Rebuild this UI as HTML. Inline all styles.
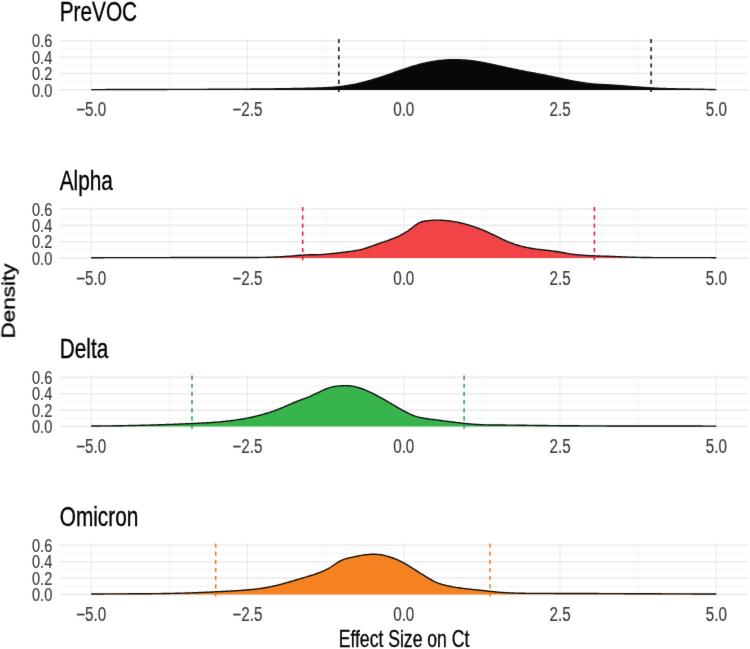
<!DOCTYPE html><html><head><meta charset="utf-8"><title>Effect Size on Ct</title>
<style>html,body{margin:0;padding:0;background:#fff;}svg{display:block;font-family:"Liberation Sans",sans-serif;}</style></head><body>
<svg width="750" height="649" viewBox="0 0 750 649">
<defs><filter id="soft" filterUnits="userSpaceOnUse" x="0" y="0" width="750" height="649" color-interpolation-filters="sRGB"><feConvolveMatrix order="3" kernelMatrix="0.00524 0.06192 0.00524 0.06192 0.73137 0.06192 0.00524 0.06192 0.00524" edgeMode="duplicate" preserveAlpha="true"/></filter></defs>
<g filter="url(#soft)">
<rect x="0" y="0" width="750" height="649" fill="#ffffff"/>
<line x1="60.00" y1="81.72" x2="748.00" y2="81.72" stroke="#f3f3f3" stroke-width="1"/><line x1="60.00" y1="65.36" x2="748.00" y2="65.36" stroke="#f3f3f3" stroke-width="1"/><line x1="60.00" y1="49.00" x2="748.00" y2="49.00" stroke="#f3f3f3" stroke-width="1"/><line x1="169.34" y1="38.90" x2="169.34" y2="90.50" stroke="#f5f5f5" stroke-width="1"/><line x1="325.61" y1="38.90" x2="325.61" y2="90.50" stroke="#f5f5f5" stroke-width="1"/><line x1="481.89" y1="38.90" x2="481.89" y2="90.50" stroke="#f5f5f5" stroke-width="1"/><line x1="638.16" y1="38.90" x2="638.16" y2="90.50" stroke="#f5f5f5" stroke-width="1"/><line x1="60.00" y1="89.90" x2="748.00" y2="89.90" stroke="#ebebeb" stroke-width="1.6"/><line x1="60.00" y1="73.54" x2="748.00" y2="73.54" stroke="#ebebeb" stroke-width="1.6"/><line x1="60.00" y1="57.18" x2="748.00" y2="57.18" stroke="#ebebeb" stroke-width="1.6"/><line x1="60.00" y1="40.82" x2="748.00" y2="40.82" stroke="#ebebeb" stroke-width="1.6"/><line x1="91.20" y1="38.90" x2="91.20" y2="90.50" stroke="#ebebeb" stroke-width="1.2"/><line x1="247.47" y1="38.90" x2="247.47" y2="90.50" stroke="#ebebeb" stroke-width="1.2"/><line x1="403.75" y1="38.90" x2="403.75" y2="90.50" stroke="#ebebeb" stroke-width="1.2"/><line x1="560.02" y1="38.90" x2="560.02" y2="90.50" stroke="#ebebeb" stroke-width="1.2"/><line x1="716.30" y1="38.90" x2="716.30" y2="90.50" stroke="#ebebeb" stroke-width="1.2"/>
<path d="M91.20,89.65 L92.70,89.64 L94.20,89.63 L95.70,89.62 L97.20,89.62 L98.70,89.61 L100.20,89.60 L101.70,89.59 L103.20,89.59 L104.70,89.58 L106.20,89.57 L107.70,89.57 L109.20,89.56 L110.70,89.56 L112.20,89.55 L113.70,89.55 L115.20,89.54 L116.70,89.54 L118.20,89.53 L119.70,89.53 L121.20,89.52 L122.70,89.52 L124.20,89.51 L125.70,89.51 L127.20,89.51 L128.70,89.50 L130.20,89.50 L131.70,89.49 L133.20,89.49 L134.70,89.49 L136.20,89.48 L137.70,89.48 L139.20,89.48 L140.70,89.47 L142.20,89.47 L143.70,89.47 L145.20,89.47 L146.70,89.46 L148.20,89.46 L149.70,89.46 L151.20,89.45 L152.70,89.45 L154.20,89.45 L155.70,89.45 L157.20,89.44 L158.70,89.44 L160.20,89.44 L161.70,89.44 L163.20,89.43 L164.70,89.43 L166.20,89.43 L167.70,89.42 L169.20,89.42 L170.70,89.42 L172.20,89.42 L173.70,89.41 L175.20,89.41 L176.70,89.41 L178.20,89.40 L179.70,89.40 L181.20,89.40 L182.70,89.40 L184.20,89.39 L185.70,89.39 L187.20,89.39 L188.70,89.38 L190.20,89.38 L191.70,89.37 L193.20,89.37 L194.70,89.37 L196.20,89.36 L197.70,89.36 L199.20,89.35 L200.70,89.35 L202.20,89.34 L203.70,89.34 L205.20,89.33 L206.70,89.33 L208.20,89.32 L209.70,89.32 L211.20,89.31 L212.70,89.31 L214.20,89.30 L215.70,89.29 L217.20,89.29 L218.70,89.28 L220.20,89.27 L221.70,89.27 L223.20,89.26 L224.70,89.25 L226.20,89.24 L227.70,89.24 L229.20,89.23 L230.70,89.22 L232.20,89.21 L233.70,89.20 L235.20,89.19 L236.70,89.18 L238.20,89.17 L239.70,89.16 L241.20,89.15 L242.70,89.14 L244.20,89.13 L245.70,89.12 L247.20,89.11 L248.70,89.10 L250.20,89.08 L251.70,89.07 L253.20,89.06 L254.70,89.04 L256.20,89.03 L257.70,89.02 L259.20,89.00 L260.70,88.99 L262.20,88.97 L263.70,88.96 L265.20,88.94 L266.70,88.92 L268.20,88.91 L269.70,88.89 L271.20,88.87 L272.70,88.85 L274.20,88.84 L275.70,88.82 L277.20,88.80 L278.70,88.78 L280.20,88.76 L281.70,88.73 L283.20,88.71 L284.70,88.69 L286.20,88.67 L287.70,88.64 L289.20,88.62 L290.70,88.59 L292.20,88.57 L293.70,88.54 L295.20,88.51 L296.70,88.48 L298.20,88.46 L299.70,88.43 L301.20,88.40 L302.70,88.36 L304.20,88.33 L305.70,88.30 L307.20,88.27 L308.70,88.23 L310.20,88.20 L311.70,88.16 L313.20,88.12 L314.70,88.08 L316.20,88.04 L317.70,87.99 L319.20,87.94 L320.70,87.89 L322.20,87.83 L323.70,87.77 L325.20,87.70 L326.70,87.62 L328.20,87.53 L329.70,87.44 L331.20,87.34 L332.70,87.23 L334.20,87.11 L335.70,86.98 L337.20,86.84 L338.70,86.69 L340.20,86.53 L341.70,86.35 L343.20,86.17 L344.70,85.96 L346.20,85.75 L347.70,85.52 L349.20,85.27 L350.70,85.01 L352.20,84.73 L353.70,84.44 L355.20,84.14 L356.70,83.81 L358.20,83.48 L359.70,83.13 L361.20,82.77 L362.70,82.39 L364.20,82.01 L365.70,81.61 L367.20,81.20 L368.70,80.78 L370.20,80.35 L371.70,79.91 L373.20,79.46 L374.70,79.01 L376.20,78.54 L377.70,78.07 L379.20,77.59 L380.70,77.11 L382.20,76.62 L383.70,76.12 L385.20,75.62 L386.70,75.11 L388.20,74.60 L389.70,74.08 L391.20,73.56 L392.70,73.04 L394.20,72.52 L395.70,72.00 L397.20,71.48 L398.70,70.95 L400.20,70.44 L401.70,69.92 L403.20,69.41 L404.70,68.90 L406.20,68.40 L407.70,67.91 L409.20,67.42 L410.70,66.94 L412.20,66.47 L413.70,66.01 L415.20,65.57 L416.70,65.13 L418.20,64.71 L419.70,64.30 L421.20,63.91 L422.70,63.53 L424.20,63.17 L425.70,62.83 L427.20,62.50 L428.70,62.20 L430.20,61.91 L431.70,61.64 L433.20,61.38 L434.70,61.15 L436.20,60.93 L437.70,60.73 L439.20,60.55 L440.70,60.38 L442.20,60.24 L443.70,60.10 L445.20,59.99 L446.70,59.90 L448.20,59.82 L449.70,59.75 L451.20,59.71 L452.70,59.68 L454.20,59.67 L455.70,59.67 L457.20,59.69 L458.70,59.73 L460.20,59.79 L461.70,59.86 L463.20,59.94 L464.70,60.05 L466.20,60.17 L467.70,60.30 L469.20,60.45 L470.70,60.62 L472.20,60.80 L473.70,61.00 L475.20,61.21 L476.70,61.44 L478.20,61.68 L479.70,61.93 L481.20,62.19 L482.70,62.46 L484.20,62.74 L485.70,63.02 L487.20,63.32 L488.70,63.63 L490.20,63.94 L491.70,64.25 L493.20,64.57 L494.70,64.90 L496.20,65.23 L497.70,65.56 L499.20,65.89 L500.70,66.23 L502.20,66.56 L503.70,66.90 L505.20,67.23 L506.70,67.57 L508.20,67.90 L509.70,68.22 L511.20,68.55 L512.70,68.87 L514.20,69.18 L515.70,69.49 L517.20,69.80 L518.70,70.10 L520.20,70.41 L521.70,70.70 L523.20,71.00 L524.70,71.29 L526.20,71.59 L527.70,71.88 L529.20,72.16 L530.70,72.45 L532.20,72.73 L533.70,73.02 L535.20,73.30 L536.70,73.58 L538.20,73.87 L539.70,74.15 L541.20,74.44 L542.70,74.72 L544.20,75.02 L545.70,75.31 L547.20,75.61 L548.70,75.91 L550.20,76.21 L551.70,76.53 L553.20,76.84 L554.70,77.16 L556.20,77.48 L557.70,77.80 L559.20,78.12 L560.70,78.45 L562.20,78.77 L563.70,79.09 L565.20,79.41 L566.70,79.73 L568.20,80.04 L569.70,80.35 L571.20,80.65 L572.70,80.94 L574.20,81.23 L575.70,81.51 L577.20,81.78 L578.70,82.05 L580.20,82.30 L581.70,82.54 L583.20,82.77 L584.70,82.98 L586.20,83.19 L587.70,83.37 L589.20,83.55 L590.70,83.71 L592.20,83.85 L593.70,83.98 L595.20,84.09 L596.70,84.20 L598.20,84.30 L599.70,84.39 L601.20,84.47 L602.70,84.55 L604.20,84.63 L605.70,84.70 L607.20,84.78 L608.70,84.86 L610.20,84.95 L611.70,85.04 L613.20,85.14 L614.70,85.24 L616.20,85.34 L617.70,85.45 L619.20,85.56 L620.70,85.67 L622.20,85.79 L623.70,85.91 L625.20,86.03 L626.70,86.15 L628.20,86.27 L629.70,86.39 L631.20,86.50 L632.70,86.62 L634.20,86.74 L635.70,86.85 L637.20,86.96 L638.70,87.07 L640.20,87.18 L641.70,87.29 L643.20,87.39 L644.70,87.49 L646.20,87.59 L647.70,87.68 L649.20,87.78 L650.70,87.87 L652.20,87.95 L653.70,88.04 L655.20,88.12 L656.70,88.19 L658.20,88.26 L659.70,88.33 L661.20,88.39 L662.70,88.45 L664.20,88.51 L665.70,88.56 L667.20,88.61 L668.70,88.65 L670.20,88.69 L671.70,88.73 L673.20,88.77 L674.70,88.80 L676.20,88.84 L677.70,88.87 L679.20,88.89 L680.70,88.92 L682.20,88.95 L683.70,88.97 L685.20,88.99 L686.70,89.02 L688.20,89.04 L689.70,89.06 L691.20,89.09 L692.70,89.11 L694.20,89.13 L695.70,89.16 L697.20,89.18 L698.70,89.21 L700.20,89.23 L701.70,89.26 L703.20,89.29 L704.70,89.33 L706.20,89.36 L707.70,89.40 L709.20,89.44 L710.70,89.48 L712.20,89.53 L713.70,89.57 L715.20,89.63 L716.30,89.67 L716.30,89.90 L91.20,89.90 Z" fill="#06080a"/>
<path d="M91.20,89.65 L92.70,89.64 L94.20,89.63 L95.70,89.62 L97.20,89.62 L98.70,89.61 L100.20,89.60 L101.70,89.59 L103.20,89.59 L104.70,89.58 L106.20,89.57 L107.70,89.57 L109.20,89.56 L110.70,89.56 L112.20,89.55 L113.70,89.55 L115.20,89.54 L116.70,89.54 L118.20,89.53 L119.70,89.53 L121.20,89.52 L122.70,89.52 L124.20,89.51 L125.70,89.51 L127.20,89.51 L128.70,89.50 L130.20,89.50 L131.70,89.49 L133.20,89.49 L134.70,89.49 L136.20,89.48 L137.70,89.48 L139.20,89.48 L140.70,89.47 L142.20,89.47 L143.70,89.47 L145.20,89.47 L146.70,89.46 L148.20,89.46 L149.70,89.46 L151.20,89.45 L152.70,89.45 L154.20,89.45 L155.70,89.45 L157.20,89.44 L158.70,89.44 L160.20,89.44 L161.70,89.44 L163.20,89.43 L164.70,89.43 L166.20,89.43 L167.70,89.42 L169.20,89.42 L170.70,89.42 L172.20,89.42 L173.70,89.41 L175.20,89.41 L176.70,89.41 L178.20,89.40 L179.70,89.40 L181.20,89.40 L182.70,89.40 L184.20,89.39 L185.70,89.39 L187.20,89.39 L188.70,89.38 L190.20,89.38 L191.70,89.37 L193.20,89.37 L194.70,89.37 L196.20,89.36 L197.70,89.36 L199.20,89.35 L200.70,89.35 L202.20,89.34 L203.70,89.34 L205.20,89.33 L206.70,89.33 L208.20,89.32 L209.70,89.32 L211.20,89.31 L212.70,89.31 L214.20,89.30 L215.70,89.29 L217.20,89.29 L218.70,89.28 L220.20,89.27 L221.70,89.27 L223.20,89.26 L224.70,89.25 L226.20,89.24 L227.70,89.24 L229.20,89.23 L230.70,89.22 L232.20,89.21 L233.70,89.20 L235.20,89.19 L236.70,89.18 L238.20,89.17 L239.70,89.16 L241.20,89.15 L242.70,89.14 L244.20,89.13 L245.70,89.12 L247.20,89.11 L248.70,89.10 L250.20,89.08 L251.70,89.07 L253.20,89.06 L254.70,89.04 L256.20,89.03 L257.70,89.02 L259.20,89.00 L260.70,88.99 L262.20,88.97 L263.70,88.96 L265.20,88.94 L266.70,88.92 L268.20,88.91 L269.70,88.89 L271.20,88.87 L272.70,88.85 L274.20,88.84 L275.70,88.82 L277.20,88.80 L278.70,88.78 L280.20,88.76 L281.70,88.73 L283.20,88.71 L284.70,88.69 L286.20,88.67 L287.70,88.64 L289.20,88.62 L290.70,88.59 L292.20,88.57 L293.70,88.54 L295.20,88.51 L296.70,88.48 L298.20,88.46 L299.70,88.43 L301.20,88.40 L302.70,88.36 L304.20,88.33 L305.70,88.30 L307.20,88.27 L308.70,88.23 L310.20,88.20 L311.70,88.16 L313.20,88.12 L314.70,88.08 L316.20,88.04 L317.70,87.99 L319.20,87.94 L320.70,87.89 L322.20,87.83 L323.70,87.77 L325.20,87.70 L326.70,87.62 L328.20,87.53 L329.70,87.44 L331.20,87.34 L332.70,87.23 L334.20,87.11 L335.70,86.98 L337.20,86.84 L338.70,86.69 L340.20,86.53 L341.70,86.35 L343.20,86.17 L344.70,85.96 L346.20,85.75 L347.70,85.52 L349.20,85.27 L350.70,85.01 L352.20,84.73 L353.70,84.44 L355.20,84.14 L356.70,83.81 L358.20,83.48 L359.70,83.13 L361.20,82.77 L362.70,82.39 L364.20,82.01 L365.70,81.61 L367.20,81.20 L368.70,80.78 L370.20,80.35 L371.70,79.91 L373.20,79.46 L374.70,79.01 L376.20,78.54 L377.70,78.07 L379.20,77.59 L380.70,77.11 L382.20,76.62 L383.70,76.12 L385.20,75.62 L386.70,75.11 L388.20,74.60 L389.70,74.08 L391.20,73.56 L392.70,73.04 L394.20,72.52 L395.70,72.00 L397.20,71.48 L398.70,70.95 L400.20,70.44 L401.70,69.92 L403.20,69.41 L404.70,68.90 L406.20,68.40 L407.70,67.91 L409.20,67.42 L410.70,66.94 L412.20,66.47 L413.70,66.01 L415.20,65.57 L416.70,65.13 L418.20,64.71 L419.70,64.30 L421.20,63.91 L422.70,63.53 L424.20,63.17 L425.70,62.83 L427.20,62.50 L428.70,62.20 L430.20,61.91 L431.70,61.64 L433.20,61.38 L434.70,61.15 L436.20,60.93 L437.70,60.73 L439.20,60.55 L440.70,60.38 L442.20,60.24 L443.70,60.10 L445.20,59.99 L446.70,59.90 L448.20,59.82 L449.70,59.75 L451.20,59.71 L452.70,59.68 L454.20,59.67 L455.70,59.67 L457.20,59.69 L458.70,59.73 L460.20,59.79 L461.70,59.86 L463.20,59.94 L464.70,60.05 L466.20,60.17 L467.70,60.30 L469.20,60.45 L470.70,60.62 L472.20,60.80 L473.70,61.00 L475.20,61.21 L476.70,61.44 L478.20,61.68 L479.70,61.93 L481.20,62.19 L482.70,62.46 L484.20,62.74 L485.70,63.02 L487.20,63.32 L488.70,63.63 L490.20,63.94 L491.70,64.25 L493.20,64.57 L494.70,64.90 L496.20,65.23 L497.70,65.56 L499.20,65.89 L500.70,66.23 L502.20,66.56 L503.70,66.90 L505.20,67.23 L506.70,67.57 L508.20,67.90 L509.70,68.22 L511.20,68.55 L512.70,68.87 L514.20,69.18 L515.70,69.49 L517.20,69.80 L518.70,70.10 L520.20,70.41 L521.70,70.70 L523.20,71.00 L524.70,71.29 L526.20,71.59 L527.70,71.88 L529.20,72.16 L530.70,72.45 L532.20,72.73 L533.70,73.02 L535.20,73.30 L536.70,73.58 L538.20,73.87 L539.70,74.15 L541.20,74.44 L542.70,74.72 L544.20,75.02 L545.70,75.31 L547.20,75.61 L548.70,75.91 L550.20,76.21 L551.70,76.53 L553.20,76.84 L554.70,77.16 L556.20,77.48 L557.70,77.80 L559.20,78.12 L560.70,78.45 L562.20,78.77 L563.70,79.09 L565.20,79.41 L566.70,79.73 L568.20,80.04 L569.70,80.35 L571.20,80.65 L572.70,80.94 L574.20,81.23 L575.70,81.51 L577.20,81.78 L578.70,82.05 L580.20,82.30 L581.70,82.54 L583.20,82.77 L584.70,82.98 L586.20,83.19 L587.70,83.37 L589.20,83.55 L590.70,83.71 L592.20,83.85 L593.70,83.98 L595.20,84.09 L596.70,84.20 L598.20,84.30 L599.70,84.39 L601.20,84.47 L602.70,84.55 L604.20,84.63 L605.70,84.70 L607.20,84.78 L608.70,84.86 L610.20,84.95 L611.70,85.04 L613.20,85.14 L614.70,85.24 L616.20,85.34 L617.70,85.45 L619.20,85.56 L620.70,85.67 L622.20,85.79 L623.70,85.91 L625.20,86.03 L626.70,86.15 L628.20,86.27 L629.70,86.39 L631.20,86.50 L632.70,86.62 L634.20,86.74 L635.70,86.85 L637.20,86.96 L638.70,87.07 L640.20,87.18 L641.70,87.29 L643.20,87.39 L644.70,87.49 L646.20,87.59 L647.70,87.68 L649.20,87.78 L650.70,87.87 L652.20,87.95 L653.70,88.04 L655.20,88.12 L656.70,88.19 L658.20,88.26 L659.70,88.33 L661.20,88.39 L662.70,88.45 L664.20,88.51 L665.70,88.56 L667.20,88.61 L668.70,88.65 L670.20,88.69 L671.70,88.73 L673.20,88.77 L674.70,88.80 L676.20,88.84 L677.70,88.87 L679.20,88.89 L680.70,88.92 L682.20,88.95 L683.70,88.97 L685.20,88.99 L686.70,89.02 L688.20,89.04 L689.70,89.06 L691.20,89.09 L692.70,89.11 L694.20,89.13 L695.70,89.16 L697.20,89.18 L698.70,89.21 L700.20,89.23 L701.70,89.26 L703.20,89.29 L704.70,89.33 L706.20,89.36 L707.70,89.40 L709.20,89.44 L710.70,89.48 L712.20,89.53 L713.70,89.57 L715.20,89.63 L716.30,89.67" fill="none" stroke="#111111" stroke-width="1.4" stroke-linejoin="round"/>
<line x1="338.80" y1="38.90" x2="338.80" y2="92.60" stroke="#111111" stroke-width="1.5" stroke-dasharray="4.2,3.97"/>
<line x1="651.10" y1="38.90" x2="651.10" y2="92.60" stroke="#111111" stroke-width="1.5" stroke-dasharray="4.2,3.97"/>
<text transform="translate(52.3,47.42) scale(0.82,1)" text-anchor="end" font-size="17.8" fill="#3d3d3d" stroke="#3d3d3d" stroke-width="0.2">0.6</text>
<text transform="translate(52.3,63.78) scale(0.82,1)" text-anchor="end" font-size="17.8" fill="#3d3d3d" stroke="#3d3d3d" stroke-width="0.2">0.4</text>
<text transform="translate(52.3,80.14) scale(0.82,1)" text-anchor="end" font-size="17.8" fill="#3d3d3d" stroke="#3d3d3d" stroke-width="0.2">0.2</text>
<text transform="translate(52.3,96.50) scale(0.82,1)" text-anchor="end" font-size="17.8" fill="#3d3d3d" stroke="#3d3d3d" stroke-width="0.2">0.0</text>
<text transform="translate(91.20,116.35) scale(0.79,1)" text-anchor="middle" font-size="19.3" fill="#3d3d3d" stroke="#3d3d3d" stroke-width="0.2">−5.0</text>
<text transform="translate(247.47,116.35) scale(0.79,1)" text-anchor="middle" font-size="19.3" fill="#3d3d3d" stroke="#3d3d3d" stroke-width="0.2">−2.5</text>
<text transform="translate(403.75,116.35) scale(0.79,1)" text-anchor="middle" font-size="19.3" fill="#3d3d3d" stroke="#3d3d3d" stroke-width="0.2">0.0</text>
<text transform="translate(560.02,116.35) scale(0.79,1)" text-anchor="middle" font-size="19.3" fill="#3d3d3d" stroke="#3d3d3d" stroke-width="0.2">2.5</text>
<text transform="translate(716.30,116.35) scale(0.79,1)" text-anchor="middle" font-size="19.3" fill="#3d3d3d" stroke="#3d3d3d" stroke-width="0.2">5.0</text>
<text transform="translate(59.7,21.40) scale(0.765,1)" font-size="27.2" fill="#000" stroke="#000" stroke-width="0.35">PreVOC</text>
<line x1="60.00" y1="249.92" x2="748.00" y2="249.92" stroke="#f3f3f3" stroke-width="1"/><line x1="60.00" y1="233.56" x2="748.00" y2="233.56" stroke="#f3f3f3" stroke-width="1"/><line x1="60.00" y1="217.20" x2="748.00" y2="217.20" stroke="#f3f3f3" stroke-width="1"/><line x1="169.34" y1="207.10" x2="169.34" y2="258.70" stroke="#f5f5f5" stroke-width="1"/><line x1="325.61" y1="207.10" x2="325.61" y2="258.70" stroke="#f5f5f5" stroke-width="1"/><line x1="481.89" y1="207.10" x2="481.89" y2="258.70" stroke="#f5f5f5" stroke-width="1"/><line x1="638.16" y1="207.10" x2="638.16" y2="258.70" stroke="#f5f5f5" stroke-width="1"/><line x1="60.00" y1="258.10" x2="748.00" y2="258.10" stroke="#ebebeb" stroke-width="1.6"/><line x1="60.00" y1="241.74" x2="748.00" y2="241.74" stroke="#ebebeb" stroke-width="1.6"/><line x1="60.00" y1="225.38" x2="748.00" y2="225.38" stroke="#ebebeb" stroke-width="1.6"/><line x1="60.00" y1="209.02" x2="748.00" y2="209.02" stroke="#ebebeb" stroke-width="1.6"/><line x1="91.20" y1="207.10" x2="91.20" y2="258.70" stroke="#ebebeb" stroke-width="1.2"/><line x1="247.47" y1="207.10" x2="247.47" y2="258.70" stroke="#ebebeb" stroke-width="1.2"/><line x1="403.75" y1="207.10" x2="403.75" y2="258.70" stroke="#ebebeb" stroke-width="1.2"/><line x1="560.02" y1="207.10" x2="560.02" y2="258.70" stroke="#ebebeb" stroke-width="1.2"/><line x1="716.30" y1="207.10" x2="716.30" y2="258.70" stroke="#ebebeb" stroke-width="1.2"/>
<path d="M91.20,257.71 L92.70,257.70 L94.20,257.70 L95.70,257.70 L97.20,257.69 L98.70,257.69 L100.20,257.68 L101.70,257.68 L103.20,257.68 L104.70,257.67 L106.20,257.67 L107.70,257.67 L109.20,257.66 L110.70,257.66 L112.20,257.66 L113.70,257.65 L115.20,257.65 L116.70,257.65 L118.20,257.65 L119.70,257.64 L121.20,257.64 L122.70,257.64 L124.20,257.64 L125.70,257.63 L127.20,257.63 L128.70,257.63 L130.20,257.63 L131.70,257.63 L133.20,257.62 L134.70,257.62 L136.20,257.62 L137.70,257.62 L139.20,257.62 L140.70,257.61 L142.20,257.61 L143.70,257.61 L145.20,257.61 L146.70,257.61 L148.20,257.60 L149.70,257.60 L151.20,257.60 L152.70,257.60 L154.20,257.60 L155.70,257.59 L157.20,257.59 L158.70,257.59 L160.20,257.59 L161.70,257.59 L163.20,257.58 L164.70,257.58 L166.20,257.58 L167.70,257.58 L169.20,257.58 L170.70,257.57 L172.20,257.57 L173.70,257.57 L175.20,257.56 L176.70,257.56 L178.20,257.56 L179.70,257.56 L181.20,257.55 L182.70,257.55 L184.20,257.55 L185.70,257.54 L187.20,257.54 L188.70,257.54 L190.20,257.53 L191.70,257.53 L193.20,257.52 L194.70,257.52 L196.20,257.52 L197.70,257.51 L199.20,257.51 L200.70,257.50 L202.20,257.50 L203.70,257.49 L205.20,257.49 L206.70,257.49 L208.20,257.48 L209.70,257.48 L211.20,257.47 L212.70,257.47 L214.20,257.47 L215.70,257.46 L217.20,257.46 L218.70,257.46 L220.20,257.45 L221.70,257.45 L223.20,257.45 L224.70,257.45 L226.20,257.44 L227.70,257.44 L229.20,257.44 L230.70,257.44 L232.20,257.44 L233.70,257.44 L235.20,257.44 L236.70,257.44 L238.20,257.45 L239.70,257.45 L241.20,257.45 L242.70,257.45 L244.20,257.46 L245.70,257.46 L247.20,257.46 L248.70,257.46 L250.20,257.46 L251.70,257.46 L253.20,257.46 L254.70,257.45 L256.20,257.44 L257.70,257.43 L259.20,257.42 L260.70,257.41 L262.20,257.39 L263.70,257.36 L265.20,257.34 L266.70,257.30 L268.20,257.27 L269.70,257.23 L271.20,257.18 L272.70,257.13 L274.20,257.07 L275.70,257.01 L277.20,256.94 L278.70,256.87 L280.20,256.79 L281.70,256.71 L283.20,256.62 L284.70,256.52 L286.20,256.42 L287.70,256.31 L289.20,256.20 L290.70,256.08 L292.20,255.96 L293.70,255.83 L295.20,255.70 L296.70,255.57 L298.20,255.45 L299.70,255.32 L301.20,255.21 L302.70,255.10 L304.20,255.00 L305.70,254.91 L307.20,254.84 L308.70,254.78 L310.20,254.74 L311.70,254.71 L313.20,254.70 L314.70,254.69 L316.20,254.68 L317.70,254.66 L319.20,254.63 L320.70,254.58 L322.20,254.51 L323.70,254.41 L325.20,254.30 L326.70,254.17 L328.20,254.03 L329.70,253.88 L331.20,253.71 L332.70,253.54 L334.20,253.37 L335.70,253.19 L337.20,253.01 L338.70,252.83 L340.20,252.65 L341.70,252.48 L343.20,252.31 L344.70,252.14 L346.20,251.96 L347.70,251.78 L349.20,251.59 L350.70,251.39 L352.20,251.18 L353.70,250.95 L355.20,250.70 L356.70,250.43 L358.20,250.14 L359.70,249.82 L361.20,249.47 L362.70,249.09 L364.20,248.67 L365.70,248.22 L367.20,247.73 L368.70,247.22 L370.20,246.68 L371.70,246.14 L373.20,245.58 L374.70,245.04 L376.20,244.50 L377.70,243.97 L379.20,243.45 L380.70,242.93 L382.20,242.42 L383.70,241.91 L385.20,241.39 L386.70,240.87 L388.20,240.34 L389.70,239.81 L391.20,239.25 L392.70,238.69 L394.20,238.09 L395.70,237.47 L397.20,236.82 L398.70,236.13 L400.20,235.40 L401.70,234.61 L403.20,233.78 L404.70,232.89 L406.20,231.96 L407.70,230.97 L409.20,229.93 L410.70,228.83 L412.20,227.69 L413.70,226.54 L415.20,225.41 L416.70,224.33 L418.20,223.36 L419.70,222.55 L421.20,221.96 L422.70,221.54 L424.20,221.24 L425.70,221.01 L427.20,220.81 L428.70,220.63 L430.20,220.48 L431.70,220.36 L433.20,220.27 L434.70,220.20 L436.20,220.16 L437.70,220.14 L439.20,220.16 L440.70,220.19 L442.20,220.25 L443.70,220.34 L445.20,220.45 L446.70,220.58 L448.20,220.74 L449.70,220.92 L451.20,221.12 L452.70,221.35 L454.20,221.59 L455.70,221.86 L457.20,222.15 L458.70,222.46 L460.20,222.79 L461.70,223.14 L463.20,223.51 L464.70,223.90 L466.20,224.31 L467.70,224.74 L469.20,225.19 L470.70,225.65 L472.20,226.14 L473.70,226.64 L475.20,227.15 L476.70,227.69 L478.20,228.24 L479.70,228.80 L481.20,229.39 L482.70,229.99 L484.20,230.62 L485.70,231.26 L487.20,231.92 L488.70,232.60 L490.20,233.30 L491.70,234.02 L493.20,234.75 L494.70,235.49 L496.20,236.24 L497.70,236.98 L499.20,237.72 L500.70,238.44 L502.20,239.15 L503.70,239.83 L505.20,240.50 L506.70,241.15 L508.20,241.78 L509.70,242.38 L511.20,242.96 L512.70,243.52 L514.20,244.05 L515.70,244.55 L517.20,245.03 L518.70,245.48 L520.20,245.91 L521.70,246.31 L523.20,246.68 L524.70,247.04 L526.20,247.37 L527.70,247.68 L529.20,247.96 L530.70,248.23 L532.20,248.48 L533.70,248.71 L535.20,248.93 L536.70,249.13 L538.20,249.33 L539.70,249.51 L541.20,249.69 L542.70,249.86 L544.20,250.03 L545.70,250.19 L547.20,250.36 L548.70,250.53 L550.20,250.71 L551.70,250.89 L553.20,251.07 L554.70,251.27 L556.20,251.48 L557.70,251.71 L559.20,251.95 L560.70,252.21 L562.20,252.48 L563.70,252.77 L565.20,253.05 L566.70,253.33 L568.20,253.60 L569.70,253.85 L571.20,254.08 L572.70,254.29 L574.20,254.47 L575.70,254.64 L577.20,254.78 L578.70,254.92 L580.20,255.04 L581.70,255.15 L583.20,255.26 L584.70,255.36 L586.20,255.45 L587.70,255.53 L589.20,255.61 L590.70,255.68 L592.20,255.75 L593.70,255.81 L595.20,255.87 L596.70,255.92 L598.20,255.98 L599.70,256.03 L601.20,256.08 L602.70,256.12 L604.20,256.17 L605.70,256.22 L607.20,256.27 L608.70,256.32 L610.20,256.37 L611.70,256.43 L613.20,256.49 L614.70,256.54 L616.20,256.60 L617.70,256.67 L619.20,256.73 L620.70,256.79 L622.20,256.85 L623.70,256.91 L625.20,256.97 L626.70,257.02 L628.20,257.08 L629.70,257.13 L631.20,257.18 L632.70,257.22 L634.20,257.27 L635.70,257.31 L637.20,257.34 L638.70,257.38 L640.20,257.41 L641.70,257.44 L643.20,257.46 L644.70,257.49 L646.20,257.51 L647.70,257.53 L649.20,257.55 L650.70,257.56 L652.20,257.58 L653.70,257.59 L655.20,257.60 L656.70,257.61 L658.20,257.61 L659.70,257.62 L661.20,257.62 L662.70,257.63 L664.20,257.63 L665.70,257.63 L667.20,257.63 L668.70,257.63 L670.20,257.63 L671.70,257.63 L673.20,257.63 L674.70,257.62 L676.20,257.62 L677.70,257.62 L679.20,257.61 L680.70,257.61 L682.20,257.61 L683.70,257.60 L685.20,257.60 L686.70,257.60 L688.20,257.59 L689.70,257.59 L691.20,257.59 L692.70,257.59 L694.20,257.59 L695.70,257.59 L697.20,257.59 L698.70,257.60 L700.20,257.60 L701.70,257.61 L703.20,257.61 L704.70,257.62 L706.20,257.63 L707.70,257.65 L709.20,257.66 L710.70,257.67 L712.20,257.69 L713.70,257.71 L715.20,257.73 L716.30,257.75 L716.30,258.10 L91.20,258.10 Z" fill="#f04446"/>
<path d="M91.20,257.71 L92.70,257.70 L94.20,257.70 L95.70,257.70 L97.20,257.69 L98.70,257.69 L100.20,257.68 L101.70,257.68 L103.20,257.68 L104.70,257.67 L106.20,257.67 L107.70,257.67 L109.20,257.66 L110.70,257.66 L112.20,257.66 L113.70,257.65 L115.20,257.65 L116.70,257.65 L118.20,257.65 L119.70,257.64 L121.20,257.64 L122.70,257.64 L124.20,257.64 L125.70,257.63 L127.20,257.63 L128.70,257.63 L130.20,257.63 L131.70,257.63 L133.20,257.62 L134.70,257.62 L136.20,257.62 L137.70,257.62 L139.20,257.62 L140.70,257.61 L142.20,257.61 L143.70,257.61 L145.20,257.61 L146.70,257.61 L148.20,257.60 L149.70,257.60 L151.20,257.60 L152.70,257.60 L154.20,257.60 L155.70,257.59 L157.20,257.59 L158.70,257.59 L160.20,257.59 L161.70,257.59 L163.20,257.58 L164.70,257.58 L166.20,257.58 L167.70,257.58 L169.20,257.58 L170.70,257.57 L172.20,257.57 L173.70,257.57 L175.20,257.56 L176.70,257.56 L178.20,257.56 L179.70,257.56 L181.20,257.55 L182.70,257.55 L184.20,257.55 L185.70,257.54 L187.20,257.54 L188.70,257.54 L190.20,257.53 L191.70,257.53 L193.20,257.52 L194.70,257.52 L196.20,257.52 L197.70,257.51 L199.20,257.51 L200.70,257.50 L202.20,257.50 L203.70,257.49 L205.20,257.49 L206.70,257.49 L208.20,257.48 L209.70,257.48 L211.20,257.47 L212.70,257.47 L214.20,257.47 L215.70,257.46 L217.20,257.46 L218.70,257.46 L220.20,257.45 L221.70,257.45 L223.20,257.45 L224.70,257.45 L226.20,257.44 L227.70,257.44 L229.20,257.44 L230.70,257.44 L232.20,257.44 L233.70,257.44 L235.20,257.44 L236.70,257.44 L238.20,257.45 L239.70,257.45 L241.20,257.45 L242.70,257.45 L244.20,257.46 L245.70,257.46 L247.20,257.46 L248.70,257.46 L250.20,257.46 L251.70,257.46 L253.20,257.46 L254.70,257.45 L256.20,257.44 L257.70,257.43 L259.20,257.42 L260.70,257.41 L262.20,257.39 L263.70,257.36 L265.20,257.34 L266.70,257.30 L268.20,257.27 L269.70,257.23 L271.20,257.18 L272.70,257.13 L274.20,257.07 L275.70,257.01 L277.20,256.94 L278.70,256.87 L280.20,256.79 L281.70,256.71 L283.20,256.62 L284.70,256.52 L286.20,256.42 L287.70,256.31 L289.20,256.20 L290.70,256.08 L292.20,255.96 L293.70,255.83 L295.20,255.70 L296.70,255.57 L298.20,255.45 L299.70,255.32 L301.20,255.21 L302.70,255.10 L304.20,255.00 L305.70,254.91 L307.20,254.84 L308.70,254.78 L310.20,254.74 L311.70,254.71 L313.20,254.70 L314.70,254.69 L316.20,254.68 L317.70,254.66 L319.20,254.63 L320.70,254.58 L322.20,254.51 L323.70,254.41 L325.20,254.30 L326.70,254.17 L328.20,254.03 L329.70,253.88 L331.20,253.71 L332.70,253.54 L334.20,253.37 L335.70,253.19 L337.20,253.01 L338.70,252.83 L340.20,252.65 L341.70,252.48 L343.20,252.31 L344.70,252.14 L346.20,251.96 L347.70,251.78 L349.20,251.59 L350.70,251.39 L352.20,251.18 L353.70,250.95 L355.20,250.70 L356.70,250.43 L358.20,250.14 L359.70,249.82 L361.20,249.47 L362.70,249.09 L364.20,248.67 L365.70,248.22 L367.20,247.73 L368.70,247.22 L370.20,246.68 L371.70,246.14 L373.20,245.58 L374.70,245.04 L376.20,244.50 L377.70,243.97 L379.20,243.45 L380.70,242.93 L382.20,242.42 L383.70,241.91 L385.20,241.39 L386.70,240.87 L388.20,240.34 L389.70,239.81 L391.20,239.25 L392.70,238.69 L394.20,238.09 L395.70,237.47 L397.20,236.82 L398.70,236.13 L400.20,235.40 L401.70,234.61 L403.20,233.78 L404.70,232.89 L406.20,231.96 L407.70,230.97 L409.20,229.93 L410.70,228.83 L412.20,227.69 L413.70,226.54 L415.20,225.41 L416.70,224.33 L418.20,223.36 L419.70,222.55 L421.20,221.96 L422.70,221.54 L424.20,221.24 L425.70,221.01 L427.20,220.81 L428.70,220.63 L430.20,220.48 L431.70,220.36 L433.20,220.27 L434.70,220.20 L436.20,220.16 L437.70,220.14 L439.20,220.16 L440.70,220.19 L442.20,220.25 L443.70,220.34 L445.20,220.45 L446.70,220.58 L448.20,220.74 L449.70,220.92 L451.20,221.12 L452.70,221.35 L454.20,221.59 L455.70,221.86 L457.20,222.15 L458.70,222.46 L460.20,222.79 L461.70,223.14 L463.20,223.51 L464.70,223.90 L466.20,224.31 L467.70,224.74 L469.20,225.19 L470.70,225.65 L472.20,226.14 L473.70,226.64 L475.20,227.15 L476.70,227.69 L478.20,228.24 L479.70,228.80 L481.20,229.39 L482.70,229.99 L484.20,230.62 L485.70,231.26 L487.20,231.92 L488.70,232.60 L490.20,233.30 L491.70,234.02 L493.20,234.75 L494.70,235.49 L496.20,236.24 L497.70,236.98 L499.20,237.72 L500.70,238.44 L502.20,239.15 L503.70,239.83 L505.20,240.50 L506.70,241.15 L508.20,241.78 L509.70,242.38 L511.20,242.96 L512.70,243.52 L514.20,244.05 L515.70,244.55 L517.20,245.03 L518.70,245.48 L520.20,245.91 L521.70,246.31 L523.20,246.68 L524.70,247.04 L526.20,247.37 L527.70,247.68 L529.20,247.96 L530.70,248.23 L532.20,248.48 L533.70,248.71 L535.20,248.93 L536.70,249.13 L538.20,249.33 L539.70,249.51 L541.20,249.69 L542.70,249.86 L544.20,250.03 L545.70,250.19 L547.20,250.36 L548.70,250.53 L550.20,250.71 L551.70,250.89 L553.20,251.07 L554.70,251.27 L556.20,251.48 L557.70,251.71 L559.20,251.95 L560.70,252.21 L562.20,252.48 L563.70,252.77 L565.20,253.05 L566.70,253.33 L568.20,253.60 L569.70,253.85 L571.20,254.08 L572.70,254.29 L574.20,254.47 L575.70,254.64 L577.20,254.78 L578.70,254.92 L580.20,255.04 L581.70,255.15 L583.20,255.26 L584.70,255.36 L586.20,255.45 L587.70,255.53 L589.20,255.61 L590.70,255.68 L592.20,255.75 L593.70,255.81 L595.20,255.87 L596.70,255.92 L598.20,255.98 L599.70,256.03 L601.20,256.08 L602.70,256.12 L604.20,256.17 L605.70,256.22 L607.20,256.27 L608.70,256.32 L610.20,256.37 L611.70,256.43 L613.20,256.49 L614.70,256.54 L616.20,256.60 L617.70,256.67 L619.20,256.73 L620.70,256.79 L622.20,256.85 L623.70,256.91 L625.20,256.97 L626.70,257.02 L628.20,257.08 L629.70,257.13 L631.20,257.18 L632.70,257.22 L634.20,257.27 L635.70,257.31 L637.20,257.34 L638.70,257.38 L640.20,257.41 L641.70,257.44 L643.20,257.46 L644.70,257.49 L646.20,257.51 L647.70,257.53 L649.20,257.55 L650.70,257.56 L652.20,257.58 L653.70,257.59 L655.20,257.60 L656.70,257.61 L658.20,257.61 L659.70,257.62 L661.20,257.62 L662.70,257.63 L664.20,257.63 L665.70,257.63 L667.20,257.63 L668.70,257.63 L670.20,257.63 L671.70,257.63 L673.20,257.63 L674.70,257.62 L676.20,257.62 L677.70,257.62 L679.20,257.61 L680.70,257.61 L682.20,257.61 L683.70,257.60 L685.20,257.60 L686.70,257.60 L688.20,257.59 L689.70,257.59 L691.20,257.59 L692.70,257.59 L694.20,257.59 L695.70,257.59 L697.20,257.59 L698.70,257.60 L700.20,257.60 L701.70,257.61 L703.20,257.61 L704.70,257.62 L706.20,257.63 L707.70,257.65 L709.20,257.66 L710.70,257.67 L712.20,257.69 L713.70,257.71 L715.20,257.73 L716.30,257.75" fill="none" stroke="#111111" stroke-width="1.4" stroke-linejoin="round"/>
<line x1="302.70" y1="207.10" x2="302.70" y2="260.80" stroke="#e3183a" stroke-width="1.5" stroke-dasharray="4.2,3.97"/>
<line x1="594.40" y1="207.10" x2="594.40" y2="260.80" stroke="#e3183a" stroke-width="1.5" stroke-dasharray="4.2,3.97"/>
<text transform="translate(52.3,215.62) scale(0.82,1)" text-anchor="end" font-size="17.8" fill="#3d3d3d" stroke="#3d3d3d" stroke-width="0.2">0.6</text>
<text transform="translate(52.3,231.98) scale(0.82,1)" text-anchor="end" font-size="17.8" fill="#3d3d3d" stroke="#3d3d3d" stroke-width="0.2">0.4</text>
<text transform="translate(52.3,248.34) scale(0.82,1)" text-anchor="end" font-size="17.8" fill="#3d3d3d" stroke="#3d3d3d" stroke-width="0.2">0.2</text>
<text transform="translate(52.3,264.70) scale(0.82,1)" text-anchor="end" font-size="17.8" fill="#3d3d3d" stroke="#3d3d3d" stroke-width="0.2">0.0</text>
<text transform="translate(91.20,284.55) scale(0.79,1)" text-anchor="middle" font-size="19.3" fill="#3d3d3d" stroke="#3d3d3d" stroke-width="0.2">−5.0</text>
<text transform="translate(247.47,284.55) scale(0.79,1)" text-anchor="middle" font-size="19.3" fill="#3d3d3d" stroke="#3d3d3d" stroke-width="0.2">−2.5</text>
<text transform="translate(403.75,284.55) scale(0.79,1)" text-anchor="middle" font-size="19.3" fill="#3d3d3d" stroke="#3d3d3d" stroke-width="0.2">0.0</text>
<text transform="translate(560.02,284.55) scale(0.79,1)" text-anchor="middle" font-size="19.3" fill="#3d3d3d" stroke="#3d3d3d" stroke-width="0.2">2.5</text>
<text transform="translate(716.30,284.55) scale(0.79,1)" text-anchor="middle" font-size="19.3" fill="#3d3d3d" stroke="#3d3d3d" stroke-width="0.2">5.0</text>
<text transform="translate(59.7,189.60) scale(0.765,1)" font-size="27.2" fill="#000" stroke="#000" stroke-width="0.35">Alpha</text>
<line x1="60.00" y1="418.32" x2="748.00" y2="418.32" stroke="#f3f3f3" stroke-width="1"/><line x1="60.00" y1="401.96" x2="748.00" y2="401.96" stroke="#f3f3f3" stroke-width="1"/><line x1="60.00" y1="385.60" x2="748.00" y2="385.60" stroke="#f3f3f3" stroke-width="1"/><line x1="169.34" y1="375.50" x2="169.34" y2="427.10" stroke="#f5f5f5" stroke-width="1"/><line x1="325.61" y1="375.50" x2="325.61" y2="427.10" stroke="#f5f5f5" stroke-width="1"/><line x1="481.89" y1="375.50" x2="481.89" y2="427.10" stroke="#f5f5f5" stroke-width="1"/><line x1="638.16" y1="375.50" x2="638.16" y2="427.10" stroke="#f5f5f5" stroke-width="1"/><line x1="60.00" y1="426.50" x2="748.00" y2="426.50" stroke="#ebebeb" stroke-width="1.6"/><line x1="60.00" y1="410.14" x2="748.00" y2="410.14" stroke="#ebebeb" stroke-width="1.6"/><line x1="60.00" y1="393.78" x2="748.00" y2="393.78" stroke="#ebebeb" stroke-width="1.6"/><line x1="60.00" y1="377.42" x2="748.00" y2="377.42" stroke="#ebebeb" stroke-width="1.6"/><line x1="91.20" y1="375.50" x2="91.20" y2="427.10" stroke="#ebebeb" stroke-width="1.2"/><line x1="247.47" y1="375.50" x2="247.47" y2="427.10" stroke="#ebebeb" stroke-width="1.2"/><line x1="403.75" y1="375.50" x2="403.75" y2="427.10" stroke="#ebebeb" stroke-width="1.2"/><line x1="560.02" y1="375.50" x2="560.02" y2="427.10" stroke="#ebebeb" stroke-width="1.2"/><line x1="716.30" y1="375.50" x2="716.30" y2="427.10" stroke="#ebebeb" stroke-width="1.2"/>
<path d="M91.20,425.97 L92.70,425.96 L94.20,425.96 L95.70,425.95 L97.20,425.95 L98.70,425.94 L100.20,425.93 L101.70,425.92 L103.20,425.91 L104.70,425.90 L106.20,425.89 L107.70,425.87 L109.20,425.86 L110.70,425.84 L112.20,425.83 L113.70,425.81 L115.20,425.79 L116.70,425.77 L118.20,425.75 L119.70,425.73 L121.20,425.70 L122.70,425.68 L124.20,425.65 L125.70,425.63 L127.20,425.60 L128.70,425.57 L130.20,425.54 L131.70,425.51 L133.20,425.48 L134.70,425.45 L136.20,425.42 L137.70,425.38 L139.20,425.35 L140.70,425.31 L142.20,425.27 L143.70,425.24 L145.20,425.20 L146.70,425.16 L148.20,425.12 L149.70,425.08 L151.20,425.03 L152.70,424.99 L154.20,424.95 L155.70,424.90 L157.20,424.86 L158.70,424.81 L160.20,424.76 L161.70,424.71 L163.20,424.66 L164.70,424.61 L166.20,424.56 L167.70,424.51 L169.20,424.46 L170.70,424.40 L172.20,424.35 L173.70,424.29 L175.20,424.24 L176.70,424.18 L178.20,424.12 L179.70,424.07 L181.20,424.01 L182.70,423.95 L184.20,423.89 L185.70,423.82 L187.20,423.76 L188.70,423.70 L190.20,423.63 L191.70,423.57 L193.20,423.50 L194.70,423.44 L196.20,423.37 L197.70,423.30 L199.20,423.23 L200.70,423.15 L202.20,423.07 L203.70,422.99 L205.20,422.91 L206.70,422.82 L208.20,422.73 L209.70,422.63 L211.20,422.53 L212.70,422.43 L214.20,422.32 L215.70,422.21 L217.20,422.09 L218.70,421.96 L220.20,421.83 L221.70,421.69 L223.20,421.55 L224.70,421.39 L226.20,421.24 L227.70,421.07 L229.20,420.90 L230.70,420.72 L232.20,420.53 L233.70,420.33 L235.20,420.12 L236.70,419.91 L238.20,419.68 L239.70,419.45 L241.20,419.20 L242.70,418.95 L244.20,418.68 L245.70,418.41 L247.20,418.12 L248.70,417.83 L250.20,417.52 L251.70,417.20 L253.20,416.86 L254.70,416.52 L256.20,416.16 L257.70,415.79 L259.20,415.41 L260.70,415.01 L262.20,414.60 L263.70,414.18 L265.20,413.74 L266.70,413.29 L268.20,412.82 L269.70,412.34 L271.20,411.84 L272.70,411.32 L274.20,410.79 L275.70,410.25 L277.20,409.69 L278.70,409.11 L280.20,408.51 L281.70,407.90 L283.20,407.28 L284.70,406.64 L286.20,405.99 L287.70,405.34 L289.20,404.69 L290.70,404.04 L292.20,403.40 L293.70,402.76 L295.20,402.12 L296.70,401.51 L298.20,400.90 L299.70,400.32 L301.20,399.76 L302.70,399.21 L304.20,398.66 L305.70,398.11 L307.20,397.55 L308.70,396.96 L310.20,396.33 L311.70,395.66 L313.20,394.97 L314.70,394.24 L316.20,393.50 L317.70,392.76 L319.20,392.01 L320.70,391.28 L322.20,390.57 L323.70,389.88 L325.20,389.23 L326.70,388.63 L328.20,388.08 L329.70,387.60 L331.20,387.18 L332.70,386.84 L334.20,386.55 L335.70,386.32 L337.20,386.13 L338.70,385.97 L340.20,385.85 L341.70,385.75 L343.20,385.68 L344.70,385.64 L346.20,385.64 L347.70,385.68 L349.20,385.78 L350.70,385.93 L352.20,386.14 L353.70,386.40 L355.20,386.72 L356.70,387.09 L358.20,387.51 L359.70,387.97 L361.20,388.47 L362.70,389.01 L364.20,389.59 L365.70,390.20 L367.20,390.84 L368.70,391.52 L370.20,392.22 L371.70,392.94 L373.20,393.68 L374.70,394.44 L376.20,395.22 L377.70,396.01 L379.20,396.82 L380.70,397.64 L382.20,398.47 L383.70,399.31 L385.20,400.16 L386.70,401.02 L388.20,401.88 L389.70,402.75 L391.20,403.63 L392.70,404.52 L394.20,405.40 L395.70,406.29 L397.20,407.18 L398.70,408.07 L400.20,408.94 L401.70,409.80 L403.20,410.64 L404.70,411.46 L406.20,412.24 L407.70,412.99 L409.20,413.71 L410.70,414.38 L412.20,415.00 L413.70,415.58 L415.20,416.10 L416.70,416.59 L418.20,417.02 L419.70,417.41 L421.20,417.75 L422.70,418.04 L424.20,418.31 L425.70,418.54 L427.20,418.75 L428.70,418.95 L430.20,419.15 L431.70,419.34 L433.20,419.53 L434.70,419.73 L436.20,419.92 L437.70,420.11 L439.20,420.30 L440.70,420.49 L442.20,420.69 L443.70,420.88 L445.20,421.07 L446.70,421.26 L448.20,421.45 L449.70,421.64 L451.20,421.83 L452.70,422.01 L454.20,422.20 L455.70,422.39 L457.20,422.57 L458.70,422.75 L460.20,422.93 L461.70,423.10 L463.20,423.27 L464.70,423.43 L466.20,423.59 L467.70,423.74 L469.20,423.88 L470.70,424.02 L472.20,424.15 L473.70,424.27 L475.20,424.38 L476.70,424.48 L478.20,424.57 L479.70,424.66 L481.20,424.73 L482.70,424.79 L484.20,424.84 L485.70,424.88 L487.20,424.92 L488.70,424.94 L490.20,424.97 L491.70,424.98 L493.20,425.00 L494.70,425.01 L496.20,425.02 L497.70,425.02 L499.20,425.03 L500.70,425.04 L502.20,425.05 L503.70,425.06 L505.20,425.07 L506.70,425.08 L508.20,425.10 L509.70,425.11 L511.20,425.13 L512.70,425.14 L514.20,425.16 L515.70,425.18 L517.20,425.19 L518.70,425.21 L520.20,425.23 L521.70,425.25 L523.20,425.27 L524.70,425.29 L526.20,425.31 L527.70,425.33 L529.20,425.35 L530.70,425.37 L532.20,425.39 L533.70,425.41 L535.20,425.43 L536.70,425.45 L538.20,425.47 L539.70,425.49 L541.20,425.50 L542.70,425.52 L544.20,425.54 L545.70,425.56 L547.20,425.57 L548.70,425.59 L550.20,425.60 L551.70,425.62 L553.20,425.63 L554.70,425.65 L556.20,425.66 L557.70,425.67 L559.20,425.69 L560.70,425.70 L562.20,425.71 L563.70,425.72 L565.20,425.73 L566.70,425.75 L568.20,425.76 L569.70,425.77 L571.20,425.78 L572.70,425.79 L574.20,425.79 L575.70,425.80 L577.20,425.81 L578.70,425.82 L580.20,425.83 L581.70,425.84 L583.20,425.84 L584.70,425.85 L586.20,425.86 L587.70,425.86 L589.20,425.87 L590.70,425.88 L592.20,425.88 L593.70,425.89 L595.20,425.89 L596.70,425.90 L598.20,425.90 L599.70,425.91 L601.20,425.91 L602.70,425.92 L604.20,425.92 L605.70,425.92 L607.20,425.93 L608.70,425.93 L610.20,425.93 L611.70,425.94 L613.20,425.94 L614.70,425.94 L616.20,425.94 L617.70,425.95 L619.20,425.95 L620.70,425.95 L622.20,425.95 L623.70,425.96 L625.20,425.96 L626.70,425.96 L628.20,425.96 L629.70,425.96 L631.20,425.96 L632.70,425.97 L634.20,425.97 L635.70,425.97 L637.20,425.97 L638.70,425.97 L640.20,425.97 L641.70,425.97 L643.20,425.97 L644.70,425.97 L646.20,425.98 L647.70,425.98 L649.20,425.98 L650.70,425.98 L652.20,425.98 L653.70,425.98 L655.20,425.98 L656.70,425.98 L658.20,425.99 L659.70,425.99 L661.20,425.99 L662.70,425.99 L664.20,425.99 L665.70,425.99 L667.20,425.99 L668.70,426.00 L670.20,426.00 L671.70,426.00 L673.20,426.00 L674.70,426.00 L676.20,426.01 L677.70,426.01 L679.20,426.01 L680.70,426.01 L682.20,426.02 L683.70,426.02 L685.20,426.02 L686.70,426.03 L688.20,426.03 L689.70,426.03 L691.20,426.04 L692.70,426.04 L694.20,426.05 L695.70,426.05 L697.20,426.05 L698.70,426.06 L700.20,426.06 L701.70,426.07 L703.20,426.08 L704.70,426.08 L706.20,426.09 L707.70,426.09 L709.20,426.10 L710.70,426.11 L712.20,426.12 L713.70,426.12 L715.20,426.13 L716.30,426.14 L716.30,426.50 L91.20,426.50 Z" fill="#38b44c"/>
<path d="M91.20,425.97 L92.70,425.96 L94.20,425.96 L95.70,425.95 L97.20,425.95 L98.70,425.94 L100.20,425.93 L101.70,425.92 L103.20,425.91 L104.70,425.90 L106.20,425.89 L107.70,425.87 L109.20,425.86 L110.70,425.84 L112.20,425.83 L113.70,425.81 L115.20,425.79 L116.70,425.77 L118.20,425.75 L119.70,425.73 L121.20,425.70 L122.70,425.68 L124.20,425.65 L125.70,425.63 L127.20,425.60 L128.70,425.57 L130.20,425.54 L131.70,425.51 L133.20,425.48 L134.70,425.45 L136.20,425.42 L137.70,425.38 L139.20,425.35 L140.70,425.31 L142.20,425.27 L143.70,425.24 L145.20,425.20 L146.70,425.16 L148.20,425.12 L149.70,425.08 L151.20,425.03 L152.70,424.99 L154.20,424.95 L155.70,424.90 L157.20,424.86 L158.70,424.81 L160.20,424.76 L161.70,424.71 L163.20,424.66 L164.70,424.61 L166.20,424.56 L167.70,424.51 L169.20,424.46 L170.70,424.40 L172.20,424.35 L173.70,424.29 L175.20,424.24 L176.70,424.18 L178.20,424.12 L179.70,424.07 L181.20,424.01 L182.70,423.95 L184.20,423.89 L185.70,423.82 L187.20,423.76 L188.70,423.70 L190.20,423.63 L191.70,423.57 L193.20,423.50 L194.70,423.44 L196.20,423.37 L197.70,423.30 L199.20,423.23 L200.70,423.15 L202.20,423.07 L203.70,422.99 L205.20,422.91 L206.70,422.82 L208.20,422.73 L209.70,422.63 L211.20,422.53 L212.70,422.43 L214.20,422.32 L215.70,422.21 L217.20,422.09 L218.70,421.96 L220.20,421.83 L221.70,421.69 L223.20,421.55 L224.70,421.39 L226.20,421.24 L227.70,421.07 L229.20,420.90 L230.70,420.72 L232.20,420.53 L233.70,420.33 L235.20,420.12 L236.70,419.91 L238.20,419.68 L239.70,419.45 L241.20,419.20 L242.70,418.95 L244.20,418.68 L245.70,418.41 L247.20,418.12 L248.70,417.83 L250.20,417.52 L251.70,417.20 L253.20,416.86 L254.70,416.52 L256.20,416.16 L257.70,415.79 L259.20,415.41 L260.70,415.01 L262.20,414.60 L263.70,414.18 L265.20,413.74 L266.70,413.29 L268.20,412.82 L269.70,412.34 L271.20,411.84 L272.70,411.32 L274.20,410.79 L275.70,410.25 L277.20,409.69 L278.70,409.11 L280.20,408.51 L281.70,407.90 L283.20,407.28 L284.70,406.64 L286.20,405.99 L287.70,405.34 L289.20,404.69 L290.70,404.04 L292.20,403.40 L293.70,402.76 L295.20,402.12 L296.70,401.51 L298.20,400.90 L299.70,400.32 L301.20,399.76 L302.70,399.21 L304.20,398.66 L305.70,398.11 L307.20,397.55 L308.70,396.96 L310.20,396.33 L311.70,395.66 L313.20,394.97 L314.70,394.24 L316.20,393.50 L317.70,392.76 L319.20,392.01 L320.70,391.28 L322.20,390.57 L323.70,389.88 L325.20,389.23 L326.70,388.63 L328.20,388.08 L329.70,387.60 L331.20,387.18 L332.70,386.84 L334.20,386.55 L335.70,386.32 L337.20,386.13 L338.70,385.97 L340.20,385.85 L341.70,385.75 L343.20,385.68 L344.70,385.64 L346.20,385.64 L347.70,385.68 L349.20,385.78 L350.70,385.93 L352.20,386.14 L353.70,386.40 L355.20,386.72 L356.70,387.09 L358.20,387.51 L359.70,387.97 L361.20,388.47 L362.70,389.01 L364.20,389.59 L365.70,390.20 L367.20,390.84 L368.70,391.52 L370.20,392.22 L371.70,392.94 L373.20,393.68 L374.70,394.44 L376.20,395.22 L377.70,396.01 L379.20,396.82 L380.70,397.64 L382.20,398.47 L383.70,399.31 L385.20,400.16 L386.70,401.02 L388.20,401.88 L389.70,402.75 L391.20,403.63 L392.70,404.52 L394.20,405.40 L395.70,406.29 L397.20,407.18 L398.70,408.07 L400.20,408.94 L401.70,409.80 L403.20,410.64 L404.70,411.46 L406.20,412.24 L407.70,412.99 L409.20,413.71 L410.70,414.38 L412.20,415.00 L413.70,415.58 L415.20,416.10 L416.70,416.59 L418.20,417.02 L419.70,417.41 L421.20,417.75 L422.70,418.04 L424.20,418.31 L425.70,418.54 L427.20,418.75 L428.70,418.95 L430.20,419.15 L431.70,419.34 L433.20,419.53 L434.70,419.73 L436.20,419.92 L437.70,420.11 L439.20,420.30 L440.70,420.49 L442.20,420.69 L443.70,420.88 L445.20,421.07 L446.70,421.26 L448.20,421.45 L449.70,421.64 L451.20,421.83 L452.70,422.01 L454.20,422.20 L455.70,422.39 L457.20,422.57 L458.70,422.75 L460.20,422.93 L461.70,423.10 L463.20,423.27 L464.70,423.43 L466.20,423.59 L467.70,423.74 L469.20,423.88 L470.70,424.02 L472.20,424.15 L473.70,424.27 L475.20,424.38 L476.70,424.48 L478.20,424.57 L479.70,424.66 L481.20,424.73 L482.70,424.79 L484.20,424.84 L485.70,424.88 L487.20,424.92 L488.70,424.94 L490.20,424.97 L491.70,424.98 L493.20,425.00 L494.70,425.01 L496.20,425.02 L497.70,425.02 L499.20,425.03 L500.70,425.04 L502.20,425.05 L503.70,425.06 L505.20,425.07 L506.70,425.08 L508.20,425.10 L509.70,425.11 L511.20,425.13 L512.70,425.14 L514.20,425.16 L515.70,425.18 L517.20,425.19 L518.70,425.21 L520.20,425.23 L521.70,425.25 L523.20,425.27 L524.70,425.29 L526.20,425.31 L527.70,425.33 L529.20,425.35 L530.70,425.37 L532.20,425.39 L533.70,425.41 L535.20,425.43 L536.70,425.45 L538.20,425.47 L539.70,425.49 L541.20,425.50 L542.70,425.52 L544.20,425.54 L545.70,425.56 L547.20,425.57 L548.70,425.59 L550.20,425.60 L551.70,425.62 L553.20,425.63 L554.70,425.65 L556.20,425.66 L557.70,425.67 L559.20,425.69 L560.70,425.70 L562.20,425.71 L563.70,425.72 L565.20,425.73 L566.70,425.75 L568.20,425.76 L569.70,425.77 L571.20,425.78 L572.70,425.79 L574.20,425.79 L575.70,425.80 L577.20,425.81 L578.70,425.82 L580.20,425.83 L581.70,425.84 L583.20,425.84 L584.70,425.85 L586.20,425.86 L587.70,425.86 L589.20,425.87 L590.70,425.88 L592.20,425.88 L593.70,425.89 L595.20,425.89 L596.70,425.90 L598.20,425.90 L599.70,425.91 L601.20,425.91 L602.70,425.92 L604.20,425.92 L605.70,425.92 L607.20,425.93 L608.70,425.93 L610.20,425.93 L611.70,425.94 L613.20,425.94 L614.70,425.94 L616.20,425.94 L617.70,425.95 L619.20,425.95 L620.70,425.95 L622.20,425.95 L623.70,425.96 L625.20,425.96 L626.70,425.96 L628.20,425.96 L629.70,425.96 L631.20,425.96 L632.70,425.97 L634.20,425.97 L635.70,425.97 L637.20,425.97 L638.70,425.97 L640.20,425.97 L641.70,425.97 L643.20,425.97 L644.70,425.97 L646.20,425.98 L647.70,425.98 L649.20,425.98 L650.70,425.98 L652.20,425.98 L653.70,425.98 L655.20,425.98 L656.70,425.98 L658.20,425.99 L659.70,425.99 L661.20,425.99 L662.70,425.99 L664.20,425.99 L665.70,425.99 L667.20,425.99 L668.70,426.00 L670.20,426.00 L671.70,426.00 L673.20,426.00 L674.70,426.00 L676.20,426.01 L677.70,426.01 L679.20,426.01 L680.70,426.01 L682.20,426.02 L683.70,426.02 L685.20,426.02 L686.70,426.03 L688.20,426.03 L689.70,426.03 L691.20,426.04 L692.70,426.04 L694.20,426.05 L695.70,426.05 L697.20,426.05 L698.70,426.06 L700.20,426.06 L701.70,426.07 L703.20,426.08 L704.70,426.08 L706.20,426.09 L707.70,426.09 L709.20,426.10 L710.70,426.11 L712.20,426.12 L713.70,426.12 L715.20,426.13 L716.30,426.14" fill="none" stroke="#111111" stroke-width="1.4" stroke-linejoin="round"/>
<line x1="192.00" y1="375.50" x2="192.00" y2="429.20" stroke="#16a843" stroke-width="1.5" stroke-dasharray="4.2,3.97"/>
<line x1="464.10" y1="375.50" x2="464.10" y2="429.20" stroke="#16a843" stroke-width="1.5" stroke-dasharray="4.2,3.97"/>
<text transform="translate(52.3,384.02) scale(0.82,1)" text-anchor="end" font-size="17.8" fill="#3d3d3d" stroke="#3d3d3d" stroke-width="0.2">0.6</text>
<text transform="translate(52.3,400.38) scale(0.82,1)" text-anchor="end" font-size="17.8" fill="#3d3d3d" stroke="#3d3d3d" stroke-width="0.2">0.4</text>
<text transform="translate(52.3,416.74) scale(0.82,1)" text-anchor="end" font-size="17.8" fill="#3d3d3d" stroke="#3d3d3d" stroke-width="0.2">0.2</text>
<text transform="translate(52.3,433.10) scale(0.82,1)" text-anchor="end" font-size="17.8" fill="#3d3d3d" stroke="#3d3d3d" stroke-width="0.2">0.0</text>
<text transform="translate(91.20,452.95) scale(0.79,1)" text-anchor="middle" font-size="19.3" fill="#3d3d3d" stroke="#3d3d3d" stroke-width="0.2">−5.0</text>
<text transform="translate(247.47,452.95) scale(0.79,1)" text-anchor="middle" font-size="19.3" fill="#3d3d3d" stroke="#3d3d3d" stroke-width="0.2">−2.5</text>
<text transform="translate(403.75,452.95) scale(0.79,1)" text-anchor="middle" font-size="19.3" fill="#3d3d3d" stroke="#3d3d3d" stroke-width="0.2">0.0</text>
<text transform="translate(560.02,452.95) scale(0.79,1)" text-anchor="middle" font-size="19.3" fill="#3d3d3d" stroke="#3d3d3d" stroke-width="0.2">2.5</text>
<text transform="translate(716.30,452.95) scale(0.79,1)" text-anchor="middle" font-size="19.3" fill="#3d3d3d" stroke="#3d3d3d" stroke-width="0.2">5.0</text>
<text transform="translate(59.7,358.00) scale(0.765,1)" font-size="27.2" fill="#000" stroke="#000" stroke-width="0.35">Delta</text>
<line x1="60.00" y1="586.22" x2="748.00" y2="586.22" stroke="#f3f3f3" stroke-width="1"/><line x1="60.00" y1="569.86" x2="748.00" y2="569.86" stroke="#f3f3f3" stroke-width="1"/><line x1="60.00" y1="553.50" x2="748.00" y2="553.50" stroke="#f3f3f3" stroke-width="1"/><line x1="169.34" y1="543.40" x2="169.34" y2="595.00" stroke="#f5f5f5" stroke-width="1"/><line x1="325.61" y1="543.40" x2="325.61" y2="595.00" stroke="#f5f5f5" stroke-width="1"/><line x1="481.89" y1="543.40" x2="481.89" y2="595.00" stroke="#f5f5f5" stroke-width="1"/><line x1="638.16" y1="543.40" x2="638.16" y2="595.00" stroke="#f5f5f5" stroke-width="1"/><line x1="60.00" y1="594.40" x2="748.00" y2="594.40" stroke="#ebebeb" stroke-width="1.6"/><line x1="60.00" y1="578.04" x2="748.00" y2="578.04" stroke="#ebebeb" stroke-width="1.6"/><line x1="60.00" y1="561.68" x2="748.00" y2="561.68" stroke="#ebebeb" stroke-width="1.6"/><line x1="60.00" y1="545.32" x2="748.00" y2="545.32" stroke="#ebebeb" stroke-width="1.6"/><line x1="91.20" y1="543.40" x2="91.20" y2="595.00" stroke="#ebebeb" stroke-width="1.2"/><line x1="247.47" y1="543.40" x2="247.47" y2="595.00" stroke="#ebebeb" stroke-width="1.2"/><line x1="403.75" y1="543.40" x2="403.75" y2="595.00" stroke="#ebebeb" stroke-width="1.2"/><line x1="560.02" y1="543.40" x2="560.02" y2="595.00" stroke="#ebebeb" stroke-width="1.2"/><line x1="716.30" y1="543.40" x2="716.30" y2="595.00" stroke="#ebebeb" stroke-width="1.2"/>
<path d="M91.20,594.01 L92.70,593.99 L94.20,593.98 L95.70,593.97 L97.20,593.96 L98.70,593.95 L100.20,593.94 L101.70,593.93 L103.20,593.93 L104.70,593.92 L106.20,593.91 L107.70,593.90 L109.20,593.90 L110.70,593.89 L112.20,593.89 L113.70,593.88 L115.20,593.87 L116.70,593.87 L118.20,593.86 L119.70,593.86 L121.20,593.85 L122.70,593.85 L124.20,593.84 L125.70,593.84 L127.20,593.83 L128.70,593.82 L130.20,593.82 L131.70,593.81 L133.20,593.80 L134.70,593.80 L136.20,593.79 L137.70,593.78 L139.20,593.77 L140.70,593.76 L142.20,593.75 L143.70,593.74 L145.20,593.73 L146.70,593.72 L148.20,593.71 L149.70,593.70 L151.20,593.68 L152.70,593.67 L154.20,593.65 L155.70,593.64 L157.20,593.62 L158.70,593.60 L160.20,593.58 L161.70,593.56 L163.20,593.54 L164.70,593.51 L166.20,593.49 L167.70,593.46 L169.20,593.44 L170.70,593.41 L172.20,593.38 L173.70,593.35 L175.20,593.32 L176.70,593.28 L178.20,593.25 L179.70,593.21 L181.20,593.17 L182.70,593.13 L184.20,593.09 L185.70,593.04 L187.20,593.00 L188.70,592.95 L190.20,592.90 L191.70,592.85 L193.20,592.80 L194.70,592.74 L196.20,592.69 L197.70,592.63 L199.20,592.57 L200.70,592.51 L202.20,592.44 L203.70,592.38 L205.20,592.31 L206.70,592.24 L208.20,592.18 L209.70,592.11 L211.20,592.03 L212.70,591.96 L214.20,591.89 L215.70,591.81 L217.20,591.74 L218.70,591.66 L220.20,591.58 L221.70,591.51 L223.20,591.43 L224.70,591.35 L226.20,591.27 L227.70,591.19 L229.20,591.10 L230.70,591.02 L232.20,590.94 L233.70,590.86 L235.20,590.77 L236.70,590.68 L238.20,590.59 L239.70,590.49 L241.20,590.39 L242.70,590.29 L244.20,590.18 L245.70,590.06 L247.20,589.94 L248.70,589.81 L250.20,589.67 L251.70,589.53 L253.20,589.37 L254.70,589.21 L256.20,589.03 L257.70,588.85 L259.20,588.65 L260.70,588.45 L262.20,588.22 L263.70,587.99 L265.20,587.74 L266.70,587.48 L268.20,587.21 L269.70,586.92 L271.20,586.61 L272.70,586.29 L274.20,585.95 L275.70,585.60 L277.20,585.24 L278.70,584.86 L280.20,584.48 L281.70,584.08 L283.20,583.67 L284.70,583.26 L286.20,582.84 L287.70,582.41 L289.20,581.98 L290.70,581.54 L292.20,581.10 L293.70,580.65 L295.20,580.21 L296.70,579.76 L298.20,579.32 L299.70,578.87 L301.20,578.43 L302.70,577.99 L304.20,577.55 L305.70,577.11 L307.20,576.67 L308.70,576.22 L310.20,575.76 L311.70,575.28 L313.20,574.80 L314.70,574.30 L316.20,573.78 L317.70,573.25 L319.20,572.69 L320.70,572.11 L322.20,571.50 L323.70,570.85 L325.20,570.16 L326.70,569.42 L328.20,568.61 L329.70,567.73 L331.20,566.78 L332.70,565.77 L334.20,564.74 L335.70,563.71 L337.20,562.72 L338.70,561.80 L340.20,560.97 L341.70,560.26 L343.20,559.66 L344.70,559.14 L346.20,558.69 L347.70,558.29 L349.20,557.92 L350.70,557.57 L352.20,557.23 L353.70,556.89 L355.20,556.56 L356.70,556.25 L358.20,555.95 L359.70,555.66 L361.20,555.40 L362.70,555.16 L364.20,554.94 L365.70,554.75 L367.20,554.59 L368.70,554.46 L370.20,554.36 L371.70,554.29 L373.20,554.27 L374.70,554.28 L376.20,554.34 L377.70,554.44 L379.20,554.59 L380.70,554.79 L382.20,555.04 L383.70,555.33 L385.20,555.68 L386.70,556.09 L388.20,556.53 L389.70,557.00 L391.20,557.47 L392.70,557.97 L394.20,558.49 L395.70,559.06 L397.20,559.69 L398.70,560.36 L400.20,561.07 L401.70,561.83 L403.20,562.63 L404.70,563.46 L406.20,564.32 L407.70,565.20 L409.20,566.11 L410.70,567.04 L412.20,567.98 L413.70,568.93 L415.20,569.89 L416.70,570.86 L418.20,571.83 L419.70,572.79 L421.20,573.75 L422.70,574.69 L424.20,575.63 L425.70,576.55 L427.20,577.45 L428.70,578.34 L430.20,579.20 L431.70,580.04 L433.20,580.84 L434.70,581.59 L436.20,582.28 L437.70,582.90 L439.20,583.47 L440.70,583.99 L442.20,584.46 L443.70,584.88 L445.20,585.27 L446.70,585.63 L448.20,585.96 L449.70,586.27 L451.20,586.56 L452.70,586.83 L454.20,587.09 L455.70,587.34 L457.20,587.57 L458.70,587.79 L460.20,588.00 L461.70,588.21 L463.20,588.40 L464.70,588.58 L466.20,588.76 L467.70,588.93 L469.20,589.10 L470.70,589.26 L472.20,589.42 L473.70,589.58 L475.20,589.73 L476.70,589.89 L478.20,590.05 L479.70,590.21 L481.20,590.37 L482.70,590.53 L484.20,590.69 L485.70,590.86 L487.20,591.02 L488.70,591.19 L490.20,591.35 L491.70,591.51 L493.20,591.66 L494.70,591.81 L496.20,591.95 L497.70,592.09 L499.20,592.22 L500.70,592.34 L502.20,592.45 L503.70,592.55 L505.20,592.65 L506.70,592.74 L508.20,592.82 L509.70,592.89 L511.20,592.96 L512.70,593.02 L514.20,593.07 L515.70,593.12 L517.20,593.16 L518.70,593.20 L520.20,593.23 L521.70,593.26 L523.20,593.29 L524.70,593.31 L526.20,593.33 L527.70,593.34 L529.20,593.35 L530.70,593.36 L532.20,593.37 L533.70,593.38 L535.20,593.38 L536.70,593.39 L538.20,593.39 L539.70,593.39 L541.20,593.39 L542.70,593.40 L544.20,593.40 L545.70,593.40 L547.20,593.41 L548.70,593.41 L550.20,593.41 L551.70,593.42 L553.20,593.42 L554.70,593.43 L556.20,593.43 L557.70,593.43 L559.20,593.44 L560.70,593.44 L562.20,593.45 L563.70,593.45 L565.20,593.46 L566.70,593.46 L568.20,593.46 L569.70,593.47 L571.20,593.47 L572.70,593.48 L574.20,593.48 L575.70,593.49 L577.20,593.49 L578.70,593.50 L580.20,593.50 L581.70,593.51 L583.20,593.51 L584.70,593.52 L586.20,593.53 L587.70,593.53 L589.20,593.54 L590.70,593.54 L592.20,593.55 L593.70,593.55 L595.20,593.56 L596.70,593.56 L598.20,593.57 L599.70,593.58 L601.20,593.58 L602.70,593.59 L604.20,593.59 L605.70,593.60 L607.20,593.61 L608.70,593.61 L610.20,593.62 L611.70,593.62 L613.20,593.63 L614.70,593.64 L616.20,593.64 L617.70,593.65 L619.20,593.65 L620.70,593.66 L622.20,593.67 L623.70,593.67 L625.20,593.68 L626.70,593.68 L628.20,593.69 L629.70,593.70 L631.20,593.70 L632.70,593.71 L634.20,593.71 L635.70,593.72 L637.20,593.73 L638.70,593.73 L640.20,593.74 L641.70,593.75 L643.20,593.75 L644.70,593.76 L646.20,593.76 L647.70,593.77 L649.20,593.78 L650.70,593.78 L652.20,593.79 L653.70,593.79 L655.20,593.80 L656.70,593.80 L658.20,593.81 L659.70,593.82 L661.20,593.82 L662.70,593.83 L664.20,593.83 L665.70,593.84 L667.20,593.84 L668.70,593.85 L670.20,593.85 L671.70,593.86 L673.20,593.86 L674.70,593.87 L676.20,593.87 L677.70,593.88 L679.20,593.88 L680.70,593.89 L682.20,593.89 L683.70,593.90 L685.20,593.90 L686.70,593.91 L688.20,593.91 L689.70,593.92 L691.20,593.92 L692.70,593.93 L694.20,593.93 L695.70,593.94 L697.20,593.94 L698.70,593.94 L700.20,593.95 L701.70,593.95 L703.20,593.95 L704.70,593.96 L706.20,593.96 L707.70,593.97 L709.20,593.97 L710.70,593.97 L712.20,593.97 L713.70,593.98 L715.20,593.98 L716.30,593.98 L716.30,594.40 L91.20,594.40 Z" fill="#f58220"/>
<path d="M91.20,594.01 L92.70,593.99 L94.20,593.98 L95.70,593.97 L97.20,593.96 L98.70,593.95 L100.20,593.94 L101.70,593.93 L103.20,593.93 L104.70,593.92 L106.20,593.91 L107.70,593.90 L109.20,593.90 L110.70,593.89 L112.20,593.89 L113.70,593.88 L115.20,593.87 L116.70,593.87 L118.20,593.86 L119.70,593.86 L121.20,593.85 L122.70,593.85 L124.20,593.84 L125.70,593.84 L127.20,593.83 L128.70,593.82 L130.20,593.82 L131.70,593.81 L133.20,593.80 L134.70,593.80 L136.20,593.79 L137.70,593.78 L139.20,593.77 L140.70,593.76 L142.20,593.75 L143.70,593.74 L145.20,593.73 L146.70,593.72 L148.20,593.71 L149.70,593.70 L151.20,593.68 L152.70,593.67 L154.20,593.65 L155.70,593.64 L157.20,593.62 L158.70,593.60 L160.20,593.58 L161.70,593.56 L163.20,593.54 L164.70,593.51 L166.20,593.49 L167.70,593.46 L169.20,593.44 L170.70,593.41 L172.20,593.38 L173.70,593.35 L175.20,593.32 L176.70,593.28 L178.20,593.25 L179.70,593.21 L181.20,593.17 L182.70,593.13 L184.20,593.09 L185.70,593.04 L187.20,593.00 L188.70,592.95 L190.20,592.90 L191.70,592.85 L193.20,592.80 L194.70,592.74 L196.20,592.69 L197.70,592.63 L199.20,592.57 L200.70,592.51 L202.20,592.44 L203.70,592.38 L205.20,592.31 L206.70,592.24 L208.20,592.18 L209.70,592.11 L211.20,592.03 L212.70,591.96 L214.20,591.89 L215.70,591.81 L217.20,591.74 L218.70,591.66 L220.20,591.58 L221.70,591.51 L223.20,591.43 L224.70,591.35 L226.20,591.27 L227.70,591.19 L229.20,591.10 L230.70,591.02 L232.20,590.94 L233.70,590.86 L235.20,590.77 L236.70,590.68 L238.20,590.59 L239.70,590.49 L241.20,590.39 L242.70,590.29 L244.20,590.18 L245.70,590.06 L247.20,589.94 L248.70,589.81 L250.20,589.67 L251.70,589.53 L253.20,589.37 L254.70,589.21 L256.20,589.03 L257.70,588.85 L259.20,588.65 L260.70,588.45 L262.20,588.22 L263.70,587.99 L265.20,587.74 L266.70,587.48 L268.20,587.21 L269.70,586.92 L271.20,586.61 L272.70,586.29 L274.20,585.95 L275.70,585.60 L277.20,585.24 L278.70,584.86 L280.20,584.48 L281.70,584.08 L283.20,583.67 L284.70,583.26 L286.20,582.84 L287.70,582.41 L289.20,581.98 L290.70,581.54 L292.20,581.10 L293.70,580.65 L295.20,580.21 L296.70,579.76 L298.20,579.32 L299.70,578.87 L301.20,578.43 L302.70,577.99 L304.20,577.55 L305.70,577.11 L307.20,576.67 L308.70,576.22 L310.20,575.76 L311.70,575.28 L313.20,574.80 L314.70,574.30 L316.20,573.78 L317.70,573.25 L319.20,572.69 L320.70,572.11 L322.20,571.50 L323.70,570.85 L325.20,570.16 L326.70,569.42 L328.20,568.61 L329.70,567.73 L331.20,566.78 L332.70,565.77 L334.20,564.74 L335.70,563.71 L337.20,562.72 L338.70,561.80 L340.20,560.97 L341.70,560.26 L343.20,559.66 L344.70,559.14 L346.20,558.69 L347.70,558.29 L349.20,557.92 L350.70,557.57 L352.20,557.23 L353.70,556.89 L355.20,556.56 L356.70,556.25 L358.20,555.95 L359.70,555.66 L361.20,555.40 L362.70,555.16 L364.20,554.94 L365.70,554.75 L367.20,554.59 L368.70,554.46 L370.20,554.36 L371.70,554.29 L373.20,554.27 L374.70,554.28 L376.20,554.34 L377.70,554.44 L379.20,554.59 L380.70,554.79 L382.20,555.04 L383.70,555.33 L385.20,555.68 L386.70,556.09 L388.20,556.53 L389.70,557.00 L391.20,557.47 L392.70,557.97 L394.20,558.49 L395.70,559.06 L397.20,559.69 L398.70,560.36 L400.20,561.07 L401.70,561.83 L403.20,562.63 L404.70,563.46 L406.20,564.32 L407.70,565.20 L409.20,566.11 L410.70,567.04 L412.20,567.98 L413.70,568.93 L415.20,569.89 L416.70,570.86 L418.20,571.83 L419.70,572.79 L421.20,573.75 L422.70,574.69 L424.20,575.63 L425.70,576.55 L427.20,577.45 L428.70,578.34 L430.20,579.20 L431.70,580.04 L433.20,580.84 L434.70,581.59 L436.20,582.28 L437.70,582.90 L439.20,583.47 L440.70,583.99 L442.20,584.46 L443.70,584.88 L445.20,585.27 L446.70,585.63 L448.20,585.96 L449.70,586.27 L451.20,586.56 L452.70,586.83 L454.20,587.09 L455.70,587.34 L457.20,587.57 L458.70,587.79 L460.20,588.00 L461.70,588.21 L463.20,588.40 L464.70,588.58 L466.20,588.76 L467.70,588.93 L469.20,589.10 L470.70,589.26 L472.20,589.42 L473.70,589.58 L475.20,589.73 L476.70,589.89 L478.20,590.05 L479.70,590.21 L481.20,590.37 L482.70,590.53 L484.20,590.69 L485.70,590.86 L487.20,591.02 L488.70,591.19 L490.20,591.35 L491.70,591.51 L493.20,591.66 L494.70,591.81 L496.20,591.95 L497.70,592.09 L499.20,592.22 L500.70,592.34 L502.20,592.45 L503.70,592.55 L505.20,592.65 L506.70,592.74 L508.20,592.82 L509.70,592.89 L511.20,592.96 L512.70,593.02 L514.20,593.07 L515.70,593.12 L517.20,593.16 L518.70,593.20 L520.20,593.23 L521.70,593.26 L523.20,593.29 L524.70,593.31 L526.20,593.33 L527.70,593.34 L529.20,593.35 L530.70,593.36 L532.20,593.37 L533.70,593.38 L535.20,593.38 L536.70,593.39 L538.20,593.39 L539.70,593.39 L541.20,593.39 L542.70,593.40 L544.20,593.40 L545.70,593.40 L547.20,593.41 L548.70,593.41 L550.20,593.41 L551.70,593.42 L553.20,593.42 L554.70,593.43 L556.20,593.43 L557.70,593.43 L559.20,593.44 L560.70,593.44 L562.20,593.45 L563.70,593.45 L565.20,593.46 L566.70,593.46 L568.20,593.46 L569.70,593.47 L571.20,593.47 L572.70,593.48 L574.20,593.48 L575.70,593.49 L577.20,593.49 L578.70,593.50 L580.20,593.50 L581.70,593.51 L583.20,593.51 L584.70,593.52 L586.20,593.53 L587.70,593.53 L589.20,593.54 L590.70,593.54 L592.20,593.55 L593.70,593.55 L595.20,593.56 L596.70,593.56 L598.20,593.57 L599.70,593.58 L601.20,593.58 L602.70,593.59 L604.20,593.59 L605.70,593.60 L607.20,593.61 L608.70,593.61 L610.20,593.62 L611.70,593.62 L613.20,593.63 L614.70,593.64 L616.20,593.64 L617.70,593.65 L619.20,593.65 L620.70,593.66 L622.20,593.67 L623.70,593.67 L625.20,593.68 L626.70,593.68 L628.20,593.69 L629.70,593.70 L631.20,593.70 L632.70,593.71 L634.20,593.71 L635.70,593.72 L637.20,593.73 L638.70,593.73 L640.20,593.74 L641.70,593.75 L643.20,593.75 L644.70,593.76 L646.20,593.76 L647.70,593.77 L649.20,593.78 L650.70,593.78 L652.20,593.79 L653.70,593.79 L655.20,593.80 L656.70,593.80 L658.20,593.81 L659.70,593.82 L661.20,593.82 L662.70,593.83 L664.20,593.83 L665.70,593.84 L667.20,593.84 L668.70,593.85 L670.20,593.85 L671.70,593.86 L673.20,593.86 L674.70,593.87 L676.20,593.87 L677.70,593.88 L679.20,593.88 L680.70,593.89 L682.20,593.89 L683.70,593.90 L685.20,593.90 L686.70,593.91 L688.20,593.91 L689.70,593.92 L691.20,593.92 L692.70,593.93 L694.20,593.93 L695.70,593.94 L697.20,593.94 L698.70,593.94 L700.20,593.95 L701.70,593.95 L703.20,593.95 L704.70,593.96 L706.20,593.96 L707.70,593.97 L709.20,593.97 L710.70,593.97 L712.20,593.97 L713.70,593.98 L715.20,593.98 L716.30,593.98" fill="none" stroke="#111111" stroke-width="1.4" stroke-linejoin="round"/>
<line x1="215.70" y1="543.40" x2="215.70" y2="597.10" stroke="#f27612" stroke-width="1.5" stroke-dasharray="4.2,3.97"/>
<line x1="490.00" y1="543.40" x2="490.00" y2="597.10" stroke="#f27612" stroke-width="1.5" stroke-dasharray="4.2,3.97"/>
<text transform="translate(52.3,551.92) scale(0.82,1)" text-anchor="end" font-size="17.8" fill="#3d3d3d" stroke="#3d3d3d" stroke-width="0.2">0.6</text>
<text transform="translate(52.3,568.28) scale(0.82,1)" text-anchor="end" font-size="17.8" fill="#3d3d3d" stroke="#3d3d3d" stroke-width="0.2">0.4</text>
<text transform="translate(52.3,584.64) scale(0.82,1)" text-anchor="end" font-size="17.8" fill="#3d3d3d" stroke="#3d3d3d" stroke-width="0.2">0.2</text>
<text transform="translate(52.3,601.00) scale(0.82,1)" text-anchor="end" font-size="17.8" fill="#3d3d3d" stroke="#3d3d3d" stroke-width="0.2">0.0</text>
<text transform="translate(91.20,620.85) scale(0.79,1)" text-anchor="middle" font-size="19.3" fill="#3d3d3d" stroke="#3d3d3d" stroke-width="0.2">−5.0</text>
<text transform="translate(247.47,620.85) scale(0.79,1)" text-anchor="middle" font-size="19.3" fill="#3d3d3d" stroke="#3d3d3d" stroke-width="0.2">−2.5</text>
<text transform="translate(403.75,620.85) scale(0.79,1)" text-anchor="middle" font-size="19.3" fill="#3d3d3d" stroke="#3d3d3d" stroke-width="0.2">0.0</text>
<text transform="translate(560.02,620.85) scale(0.79,1)" text-anchor="middle" font-size="19.3" fill="#3d3d3d" stroke="#3d3d3d" stroke-width="0.2">2.5</text>
<text transform="translate(716.30,620.85) scale(0.79,1)" text-anchor="middle" font-size="19.3" fill="#3d3d3d" stroke="#3d3d3d" stroke-width="0.2">5.0</text>
<text transform="translate(59.7,525.90) scale(0.765,1)" font-size="27.2" fill="#000" stroke="#000" stroke-width="0.35">Omicron</text>
<text transform="translate(14.7,301.0) rotate(-90) scale(1.266,1)" text-anchor="middle" font-size="17.8" fill="#000" stroke="#000" stroke-width="0.3">Density</text>
<text transform="translate(404,646.7) scale(0.765,1)" text-anchor="middle" font-size="23" fill="#000" stroke="#000" stroke-width="0.3">Effect Size on Ct</text>
</g></svg></body></html>
